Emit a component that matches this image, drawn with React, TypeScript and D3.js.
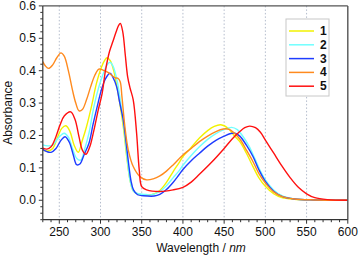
import React from "react";
import * as d3 from "d3";

const W = 359;
const H = 258;

const seriesNames = ["1", "2", "3", "4", "5"];
const seriesColors = ["#f2f200", "#70ffff", "#1e3cff", "#ff8a1e", "#ff1010"];

const s1: [number, number][] = [
  [230, 0.155], [236, 0.152], [242, 0.16], [248, 0.195], [253, 0.222], [258, 0.23], [263, 0.212],
  [268, 0.17], [273, 0.148], [278, 0.185], [283, 0.227], [289, 0.289], [295, 0.36], [301, 0.41],
  [305, 0.432], [308, 0.44], [312, 0.43], [316, 0.4], [320, 0.35], [324, 0.29], [328, 0.22],
  [332, 0.13], [336, 0.06], [340, 0.028], [345, 0.02], [352, 0.017], [358, 0.016], [365, 0.02],
  [372, 0.03], [380, 0.055], [388, 0.088], [395, 0.115], [400, 0.135], [408, 0.157], [420, 0.192],
  [430, 0.215], [438, 0.228], [446, 0.233], [455, 0.222], [462, 0.2], [469, 0.181], [477, 0.145],
  [485, 0.104], [492, 0.07], [500, 0.043], [510, 0.02], [520, 0.008], [535, 0.003], [560, 0.001],
  [600, 0],
];

const s2: [number, number][] = [
  [230, 0.171], [236, 0.168], [242, 0.17], [248, 0.19], [253, 0.203], [256, 0.207], [261, 0.195],
  [266, 0.16], [271, 0.13], [276, 0.124], [281, 0.16], [286, 0.207], [292, 0.289], [298, 0.35],
  [304, 0.395], [308, 0.418], [311.5, 0.426], [315, 0.415], [320, 0.371], [324, 0.31], [328, 0.235],
  [332, 0.14], [336, 0.06], [340, 0.028], [346, 0.02], [355, 0.018], [362, 0.017], [372, 0.027],
  [380, 0.045], [388, 0.069], [395, 0.09], [400, 0.108], [410, 0.138], [420, 0.165], [430, 0.188],
  [440, 0.206], [450, 0.218], [459, 0.225], [466, 0.218], [472, 0.2], [480, 0.168], [487, 0.13],
  [494, 0.09], [500, 0.063], [510, 0.032], [520, 0.014], [535, 0.004], [560, 0.001], [600, 0],
];

const s3: [number, number][] = [
  [230, 0.157], [235, 0.15], [240, 0.148], [246, 0.16], [252, 0.185], [257, 0.196], [262, 0.18],
  [267, 0.14], [271, 0.11], [275, 0.112], [280, 0.14], [286, 0.176], [291, 0.235], [296, 0.289],
  [301, 0.34], [306, 0.375], [311.5, 0.392], [315, 0.38], [319.6, 0.35], [323, 0.305], [327.6, 0.248],
  [331, 0.18], [334, 0.115], [337, 0.06], [340, 0.032], [345, 0.017], [352, 0.014], [365, 0.013],
  [372, 0.018], [380, 0.033], [388, 0.055], [395, 0.078], [400, 0.095], [410, 0.122], [420, 0.145],
  [430, 0.167], [440, 0.185], [450, 0.198], [458, 0.206], [463, 0.207], [469, 0.198], [477, 0.17],
  [485, 0.135], [492, 0.095], [500, 0.058], [510, 0.028], [520, 0.012], [535, 0.004], [560, 0.001],
  [600, 0],
];

const s4: [number, number][] = [
  [230, 0.428], [233, 0.415], [237, 0.407], [242, 0.418], [247, 0.44], [252, 0.455], [256, 0.445],
  [261, 0.4], [266, 0.34], [270, 0.3], [274, 0.276], [278, 0.28], [283, 0.31], [288, 0.35],
  [293, 0.385], [298, 0.405], [303, 0.402], [309, 0.395], [314, 0.385], [318, 0.378], [321.5, 0.376],
  [324, 0.365], [326, 0.32], [329.6, 0.227], [333.7, 0.155], [339.7, 0.104], [347.8, 0.073],
  [356, 0.063], [364, 0.066], [372, 0.075], [380, 0.09], [388, 0.109], [400, 0.14], [410, 0.16],
  [420, 0.181], [430, 0.198], [440, 0.212], [449, 0.22], [456, 0.219], [462, 0.208], [469, 0.189],
  [477, 0.155], [485, 0.119], [492, 0.083], [500, 0.053], [510, 0.026], [520, 0.012], [535, 0.004],
  [560, 0.001], [600, 0],
];

const s5: [number, number][] = [
  [230, 0.161], [235, 0.158], [240, 0.165], [245, 0.19], [250.8, 0.232], [256, 0.26], [263.8, 0.273],
  [269, 0.25], [274, 0.195], [278, 0.155], [282.4, 0.142], [287, 0.165], [291.2, 0.207], [297.3, 0.279],
  [302, 0.33], [306, 0.4], [311, 0.46], [315, 0.49], [319, 0.52], [322, 0.54], [324, 0.546],
  [327, 0.52], [330, 0.45], [333, 0.38], [336, 0.345], [339.7, 0.31], [343.8, 0.207], [347, 0.094],
  [350, 0.042], [356, 0.032], [372, 0.027], [388, 0.032], [400, 0.04], [410, 0.056], [420, 0.08],
  [435, 0.118], [450, 0.16], [460, 0.19], [469, 0.212], [475, 0.224], [481, 0.229], [488, 0.224],
  [494, 0.21], [500, 0.186], [510, 0.146], [520, 0.106], [530, 0.07], [540, 0.04], [550, 0.02],
  [560, 0.008], [575, 0.002], [600, 0],
];

const seriesData = [s1, s2, s3, s4, s5];

const xMajorTicks = [250, 300, 350, 400, 450, 500, 550, 600];
const xGridTicks = [250, 300, 350, 400, 450, 500, 550];
const yMajorTicks = [0.0, 0.1, 0.2, 0.3, 0.4, 0.5, 0.6];

const FONT = "'Liberation Sans', Arial, Helvetica, sans-serif";

export default function App() {
  const left = 42.8, right = 347.8, top = 5.9, bottom = 219.7;
  const x = d3.scaleLinear().domain([230, 600]).range([left, right]);
  const y = d3.scaleLinear().domain([-0.06, 0.6]).range([bottom, top]);

  const line = d3
    .line<[number, number]>()
    .x((d) => x(d[0]))
    .y((d) => y(d[1]))
    .curve(d3.curveCatmullRom.alpha(0.5));

  const xMinor = d3.range(230, 601, 10).filter((v) => v % 50 !== 0);
  const yMinor = d3.range(-6, 61, 2).map((v) => v / 100).filter((v) => Math.round(v * 100) % 10 !== 0);

  const legX = 286, legY = 19, legW = 43, legH = 77;
  const legRows = [31, 44.8, 58.6, 72.4, 86.2];

  return (
    <svg
      width={W}
      height={H}
      style={{ position: "absolute", left: 0, top: 0, background: "#fff" }}
      fontFamily={FONT}
    >
      <defs>
        <clipPath id="plotclip">
          <rect x={left} y={top} width={right - left} height={bottom - top} />
        </clipPath>
      </defs>
      <rect x={0} y={0} width={W} height={H} fill="#fff" />
      {xGridTicks.map((t) => (
        <line
          key={"g" + t}
          x1={x(t)}
          x2={x(t)}
          y1={top}
          y2={bottom}
          stroke="#b4bccc"
          strokeWidth={1}
          strokeDasharray="1.5,2"
        />
      ))}
      <g clipPath="url(#plotclip)">
        {seriesData.map((d, i) => (
          <path
            key={"s" + i}
            d={line(d) || ""}
            fill="none"
            stroke={seriesColors[i]}
            strokeWidth={1.4}
            strokeLinejoin="round"
          />
        ))}
      </g>
      {/* frame */}
      <line x1={left} x2={right} y1={top} y2={top} stroke="#555" strokeWidth={1.2} />
      <line x1={right} x2={right} y1={top} y2={bottom} stroke="#555" strokeWidth={1.4} />
      <line x1={left} x2={left} y1={top} y2={bottom} stroke="#333" strokeWidth={1.2} />
      <line x1={left} x2={right} y1={bottom} y2={bottom} stroke="#333" strokeWidth={1.2} />
      {/* y ticks */}
      {yMajorTicks.map((t) => (
        <g key={"yt" + t}>
          <line x1={left - 4} x2={left} y1={y(t)} y2={y(t)} stroke="#333" strokeWidth={1} />
          <text
            x={36}
            y={y(t)}
            textAnchor="end"
            dominantBaseline="central"
            fontSize={12}
            fill="#111"
          >
            {t.toFixed(1)}
          </text>
        </g>
      ))}
      {yMinor.map((t) => (
        <line key={"ym" + t} x1={left - 2.5} x2={left} y1={y(t)} y2={y(t)} stroke="#333" strokeWidth={1} />
      ))}
      {/* x ticks */}
      {xMajorTicks.map((t) => (
        <g key={"xt" + t}>
          <line x1={x(t)} x2={x(t)} y1={bottom} y2={bottom + 4} stroke="#333" strokeWidth={1} />
          <text x={x(t)} y={236} textAnchor="middle" fontSize={12} fill="#111">
            {t}
          </text>
        </g>
      ))}
      {xMinor.map((t) => (
        <line key={"xm" + t} x1={x(t)} x2={x(t)} y1={bottom} y2={bottom + 2.5} stroke="#333" strokeWidth={1} />
      ))}
      {/* axis titles */}
      <text x={201} y={252} textAnchor="middle" fontSize={12} fill="#111">
        Wavelength / <tspan fontStyle="italic">nm</tspan>
      </text>
      <text
        transform={`translate(12, ${(top + bottom) / 2}) rotate(-90)`}
        textAnchor="middle"
        fontSize={12}
        fill="#111"
      >
        Absorbance
      </text>
      {/* legend */}
      <rect x={legX} y={legY} width={legW} height={legH} fill="#fff" stroke="#c8c8c8" strokeWidth={1} />
      {seriesNames.map((n, i) => (
        <g key={"l" + n}>
          <line x1={289} x2={314} y1={legRows[i]} y2={legRows[i]} stroke={seriesColors[i]} strokeWidth={1.5} />
          <text x={320} y={legRows[i]} dominantBaseline="central" fontSize={12} fontWeight="bold" fill="#111">
            {n}
          </text>
        </g>
      ))}
    </svg>
  );
}
